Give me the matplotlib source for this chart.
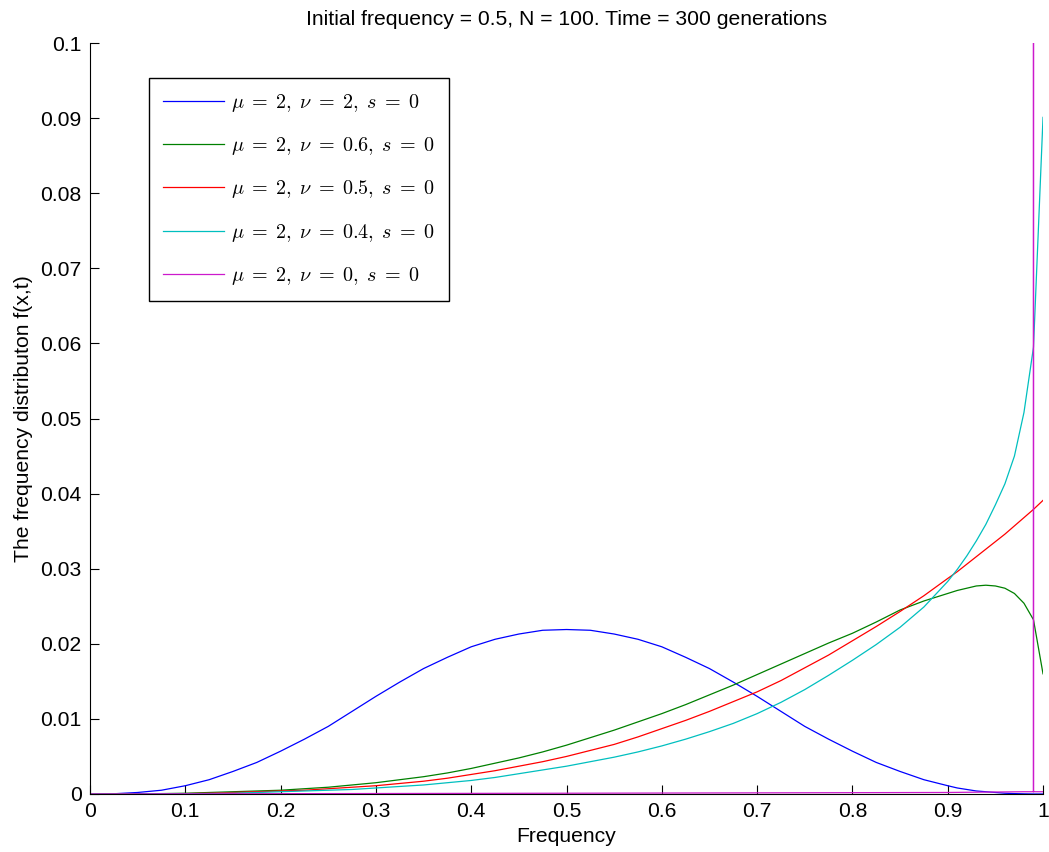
import matplotlib
matplotlib.use('Agg')
import matplotlib.pyplot as plt

plt.rcParams['font.family'] = ['Liberation Sans', 'DejaVu Sans']
plt.rcParams['mathtext.fontset'] = 'cm'

# Frequency grid and curves
freq = [0.0, 0.025, 0.05, 0.075, 0.1, 0.125, 0.15, 0.175, 0.2, 0.225, 0.25,
        0.275, 0.3, 0.325, 0.35, 0.375, 0.4, 0.425, 0.45, 0.475, 0.5,
        0.525, 0.55, 0.575, 0.6, 0.625, 0.65, 0.675, 0.7, 0.725, 0.75,
        0.775, 0.8, 0.825, 0.85, 0.875, 0.9, 0.91, 0.92, 0.93, 0.94,
        0.95, 0.96, 0.97, 0.98, 0.99, 1.0]

f_nu2 = [0.0, 0.00003, 0.0002, 0.0005, 0.0011, 0.0019, 0.0030, 0.0042, 0.0057, 0.0073, 0.0090,
         0.0110, 0.0130, 0.0149, 0.0167, 0.0182, 0.0196, 0.0206, 0.0213, 0.0218, 0.0219,
         0.0218, 0.0213, 0.0206, 0.0196, 0.0182, 0.0167, 0.0149, 0.0130, 0.0110, 0.0090,
         0.0073, 0.0057, 0.0042, 0.0030, 0.0019, 0.0011, 0.0008, 0.0006, 0.0004, 0.0003,
         0.0002, 0.0001, 0.00005, 0.00002, 0.0, 0.0]
f_nu06 = [0.0, 0.0, 0.00002, 0.00005, 0.0001, 0.0002, 0.0003, 0.0004, 0.0005, 0.0007, 0.0009,
          0.0012, 0.0015, 0.0019, 0.0023, 0.0028, 0.0034, 0.0041, 0.0048, 0.0056, 0.0065,
          0.0075, 0.0085, 0.0096, 0.0107, 0.0119, 0.0132, 0.0145, 0.0159, 0.0173, 0.0187,
          0.0201, 0.0214, 0.0229, 0.0245, 0.0257, 0.0267, 0.0271, 0.0274, 0.0277, 0.0278,
          0.0277, 0.0274, 0.0267, 0.0254, 0.0232, 0.0160]
f_nu05 = [0.0, 0.0, 0.00001, 0.00003, 0.00005, 0.0001, 0.0002, 0.0003, 0.0004, 0.0005, 0.0007,
          0.0009, 0.0011, 0.0014, 0.0017, 0.0021, 0.0026, 0.0031, 0.0037, 0.0043, 0.0050,
          0.0058, 0.0066, 0.0076, 0.0087, 0.0098, 0.0110, 0.0123, 0.0136, 0.0151, 0.0168,
          0.0185, 0.0204, 0.0223, 0.0243, 0.0264, 0.0287, 0.0296, 0.0306, 0.0316, 0.0326,
          0.0336, 0.0346, 0.0357, 0.0368, 0.0379, 0.0391]
f_nu04 = [0.0, 0.0, 0.00001, 0.00002, 0.00003, 0.00006, 0.0001, 0.0002, 0.0003, 0.0004, 0.0005,
          0.0006, 0.0008, 0.0010, 0.0012, 0.0015, 0.0018, 0.0022, 0.0027, 0.0032, 0.0037,
          0.0043, 0.0049, 0.0056, 0.0064, 0.0073, 0.0083, 0.0094, 0.0107, 0.0122, 0.0139,
          0.0158, 0.0178, 0.0199, 0.0222, 0.0249, 0.0283, 0.0299, 0.0317, 0.0337, 0.0359,
          0.0385, 0.0413, 0.0450, 0.0508, 0.0595, 0.0901]

# nu = 0: essentially zero, all the mass sits in a spike at 0.99
freq_nu0 = [0.0, 0.5, 0.9, 0.98, 0.99, 0.99, 0.99, 1.0]
f_nu0 = [0.0, 0.0001, 0.0002, 0.0003, 0.0003, 0.1, 0.0003, 0.0003]

labels = [r'$\mu\;=\;2,\;\nu\;=\;2,\;s\;=\;0$',
          r'$\mu\;=\;2,\;\nu\;=\;0.6,\;s\;=\;0$',
          r'$\mu\;=\;2,\;\nu\;=\;0.5,\;s\;=\;0$',
          r'$\mu\;=\;2,\;\nu\;=\;0.4,\;s\;=\;0$',
          r'$\mu\;=\;2,\;\nu\;=\;0,\;s\;=\;0$']

xticks = [0, 0.1, 0.2, 0.3, 0.4, 0.5, 0.6, 0.7, 0.8, 0.9, 1.0]
xticklabels = ['0', '0.1', '0.2', '0.3', '0.4', '0.5', '0.6', '0.7', '0.8', '0.9', '1']
yticks = [0, 0.01, 0.02, 0.03, 0.04, 0.05, 0.06, 0.07, 0.08, 0.09, 0.1]
yticklabels = ['0', '0.01', '0.02', '0.03', '0.04', '0.05', '0.06', '0.07', '0.08', '0.09', '0.1']

fig = plt.figure(figsize=(10.49, 8.52), dpi=100)
ax = fig.add_axes([0.0858, 0.0681, 0.9085, 0.8814])

lw = 0.9
ax.plot(freq, f_nu2, color=(0, 0, 1), lw=lw, label=labels[0])
ax.plot(freq, f_nu06, color=(0, 0.5, 0), lw=lw, label=labels[1])
ax.plot(freq, f_nu05, color=(1, 0, 0), lw=lw, label=labels[2])
ax.plot(freq, f_nu04, color=(0, 0.75, 0.75), lw=lw, label=labels[3])
ax.plot(freq_nu0, f_nu0, color=(0.8, 0.1, 0.8), lw=lw, label=labels[4])

ax.set_xlim(0, 1)
ax.set_ylim(0, 0.1)
ax.set_xticks(xticks)
ax.set_xticklabels(xticklabels)
ax.set_yticks(yticks)
ax.set_yticklabels(yticklabels)
ax.tick_params(direction='in', length=6.5, width=0.8, labelsize=15.2, pad=6)
ax.spines['top'].set_visible(False)
ax.spines['right'].set_visible(False)
ax.spines['left'].set_linewidth(0.8)
ax.spines['bottom'].set_linewidth(0.8)

ax.set_xlabel('Frequency', fontsize=15.2, labelpad=4)
ax.set_ylabel('The frequency distributon f(x,t)', fontsize=15.2, labelpad=5)
ax.set_title('Initial frequency = 0.5, N = 100. Time = 300 generations', fontsize=15.2, pad=13)

leg = ax.legend(loc='upper left', bbox_to_anchor=(0.0619, 0.9534), borderaxespad=0,
                fontsize=14.5, handlelength=3.0, handletextpad=0.35, labelspacing=1.05,
                borderpad=0.7, fancybox=False, framealpha=1, edgecolor='black')
leg.get_frame().set_linewidth(1.0)

fig.savefig('out.png', dpi=100)
